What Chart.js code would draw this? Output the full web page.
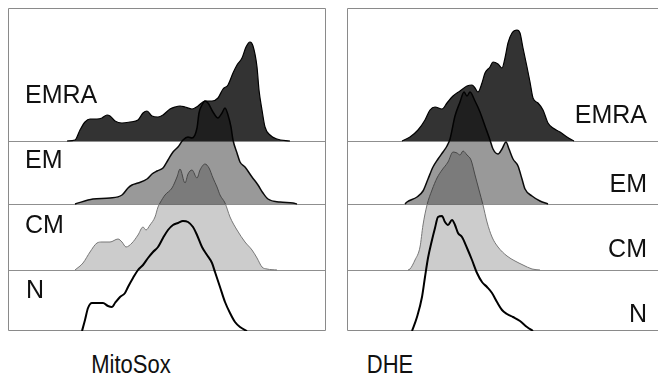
<!DOCTYPE html>
<html>
<head>
<meta charset="utf-8">
<script src="https://cdn.jsdelivr.net/npm/chart.js@4.4.1/dist/chart.umd.min.js"></script>
<style>
  html, body { margin: 0; padding: 0; background: #fff; }
  body { width: 658px; height: 381px; overflow: hidden; position: relative;
         font-family: "Liberation Sans", Arial, sans-serif; color: #111; }
  canvas { position: absolute; top: 0; }
  .lbl { position: absolute; font-size: 25px; line-height: 25px; white-space: nowrap; }
  .r { text-align: right; }
  .title { position: absolute; width: 200px; text-align: center; font-size: 25px;
           line-height: 25px; transform: scaleX(0.88); }
</style>
</head>
<body>
<canvas id="mito" width="330" height="340" style="left:0"></canvas>
<canvas id="dhe" width="340" height="340" style="left:330px"></canvas>

<div class="lbl" style="left:25px;top:82px">EMRA</div>
<div class="lbl" style="left:25px;top:147px">EM</div>
<div class="lbl" style="left:25px;top:212px">CM</div>
<div class="lbl" style="left:26px;top:277px">N</div>

<div class="lbl r" style="right:11px;top:101.5px">EMRA</div>
<div class="lbl r" style="right:11px;top:170.5px">EM</div>
<div class="lbl r" style="right:11px;top:235.5px">CM</div>
<div class="lbl r" style="right:11px;top:300.5px">N</div>

<div class="title" style="left:31px;top:352px">MitoSox</div>
<div class="title" style="left:290px;top:352px">DHE</div>

<script>
// ---- data: [fluorescence bin, event count] ----
const populations = ["EMRA", "EM", "CM", "N"];

const mitoEMRA = [[59,0],[67,1],[72,11],[77,19],[82,22],[89,22],[94,23],[99,26],[102,25],[107,20],[114,18],[122,19],[130,21],[135,28],[139,30],[144,25],[150,24],[155,26],[162,32],[167,34],[172,35],[177,34],[184,32],[190,35],[197,40],[204,40],[210,43],[215,52],[220,56],[225,68],[229,76],[234,83],[238,94],[242,99],[245,95],[249,74],[251,51],[254,31],[257,14],[262,6],[269,2],[282,0]];
const mitoEM = [[67,0],[85,5],[102,6],[114,9],[120,16],[124,19],[130,21],[139,25],[144,30],[149,33],[155,36],[160,44],[165,52],[170,57],[175,64],[180,67],[184,66],[189,76],[191,91],[194,99],[197,103],[200,101],[205,92],[210,86],[214,91],[217,96],[220,89],[223,77],[225,64],[229,51],[232,42],[237,37],[244,27],[250,19],[255,11],[260,5],[272,2],[285,1],[289,0]];
const mitoCM = [[67,0],[75,7],[82,18],[89,27],[94,28],[102,28],[110,31],[114,28],[118,23],[124,27],[130,35],[135,43],[138,40],[142,45],[147,53],[150,63],[152,67],[157,75],[164,82],[169,93],[172,101],[177,87],[180,96],[184,100],[189,92],[192,100],[197,106],[201,102],[205,92],[209,83],[212,75],[217,67],[222,53],[229,40],[237,28],[244,20],[249,12],[254,3],[259,1],[269,0]];
const mitoN = [[74,0],[77,11],[80,23],[84,28],[89,28],[95,28],[100,25],[104,24],[107,28],[112,34],[117,38],[120,44],[125,53],[130,61],[135,66],[140,73],[145,79],[150,84],[155,93],[160,101],[165,106],[170,108],[175,110],[180,109],[185,104],[189,96],[194,84],[199,76],[204,68],[207,59],[212,44],[217,29],[222,18],[227,9],[232,4],[239,0]];

const dheEMRA = [[55,0],[63,4],[71,11],[78,21],[83,31],[88,34],[95,32],[100,38],[106,45],[113,50],[120,55],[125,56],[128,53],[131,49],[135,58],[138,68],[143,74],[146,79],[151,77],[155,73],[158,83],[161,98],[165,108],[170,111],[173,108],[176,93],[180,74],[183,59],[186,43],[191,38],[196,31],[201,18],[206,13],[213,9],[220,4],[227,0]];
const dheEM = [[58,0],[60,2],[70,7],[76,13],[81,25],[86,37],[91,45],[96,52],[100,58],[103,65],[108,88],[113,102],[117,112],[120,108],[123,112],[128,103],[133,92],[138,78],[143,64],[146,55],[151,50],[155,55],[159,62],[162,55],[166,45],[171,38],[175,25],[178,15],[185,8],[193,3],[201,0]];
const dheCM = [[61,0],[63,1],[68,10],[73,23],[76,45],[80,65],[85,80],[90,92],[95,100],[101,108],[106,118],[110,117],[113,115],[116,119],[120,115],[124,110],[128,95],[132,80],[136,65],[140,48],[145,33],[151,23],[160,14],[168,9],[176,5],[185,1],[193,0]];
const dheN = [[65,0],[70,14],[75,34],[78,54],[81,73],[85,91],[88,103],[91,114],[95,115],[98,109],[101,106],[105,111],[108,106],[111,98],[115,94],[120,83],[125,71],[130,58],[135,49],[140,44],[145,38],[150,29],[155,21],[160,17],[166,14],[173,10],[180,4],[186,0]];

// ---- layout / style (not data) ----
const lane = { EMRA: 190, EM: 127, CM: 61, N: 0 };
const style = {
  EMRA: { fill: "rgba(0,0,0,0.8)", line: "#000", width: 1.2 },
  EM:   { fill: "rgba(0,0,0,0.4)", line: "#0a0a0a", width: 1.5 },
  CM:   { fill: "rgba(0,0,0,0.2)", line: "#777", width: 1 },
  N:    { fill: false, line: "#000", width: 2 }
};

function makeDatasets(seriesList) {
  return populations.map((p, i) => {
    const off = lane[p];
    const s = style[p];
    return {
      label: p,
      data: seriesList[i].map(([x, y]) => ({ x: x, y: off + y })),
      borderColor: s.line,
      borderWidth: s.width,
      backgroundColor: s.fill || "transparent",
      fill: s.fill ? { value: off } : false,
      pointRadius: 0,
      cubicInterpolationMode: "monotone",
      order: i
    };
  });
}

const framePlugin = {
  id: "frame",
  beforeDatasetsDraw(chart, args, opts) {
    const { ctx, chartArea: a, scales } = chart;
    ctx.save();
    ctx.strokeStyle = "#8f8f8f";
    ctx.lineWidth = 1;
    populations.forEach(p => {
      if (lane[p] === 0) return;
      const y = Math.round(scales.y.getPixelForValue(lane[p])) + 0.5;
      ctx.beginPath(); ctx.moveTo(a.left, y); ctx.lineTo(a.right, y); ctx.stroke();
    });
    ctx.strokeStyle = "#8a8a8a";
    ctx.beginPath();
    ctx.rect(Math.round(a.left) + 0.5, Math.round(a.top) + 0.5,
             Math.round(a.right - a.left) - 1, Math.round(a.bottom - a.top) - 1);
    ctx.stroke();
    ctx.restore();
  }
};

function makeChart(id, seriesList, xMax, pad) {
  return new Chart(document.getElementById(id), {
    type: "line",
    data: { datasets: makeDatasets(seriesList) },
    options: {
      responsive: false,
      animation: false,
      layout: { padding: pad },
      plugins: { legend: { display: false }, tooltip: { enabled: false } },
      scales: {
        x: { type: "linear", min: 0, max: xMax, display: false },
        y: { type: "linear", min: 0, max: 323, display: false }
      }
    },
    plugins: [framePlugin]
  });
}

makeChart("mito", [mitoEMRA, mitoEM, mitoCM, mitoN], 318, { left: 8, top: 8, right: 4, bottom: 9 });
makeChart("dhe", [dheEMRA, dheEM, dheCM, dheN], 323, { left: 17, top: 8, right: 0, bottom: 9 });
</script>
</body>
</html>
